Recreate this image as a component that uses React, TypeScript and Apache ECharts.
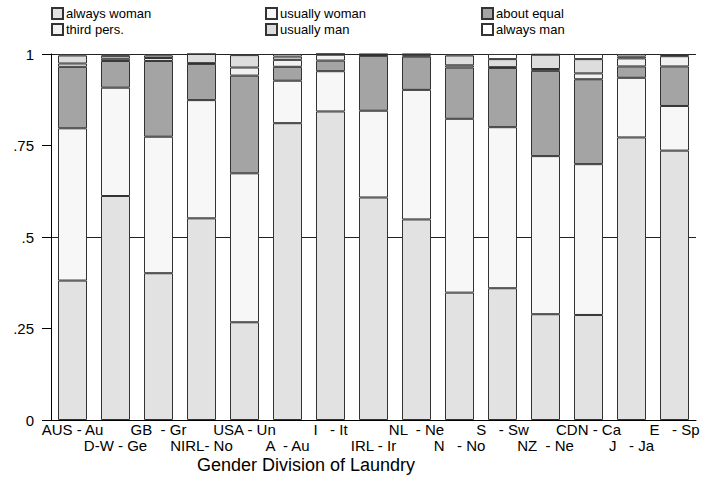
import React, { useEffect, useRef } from "react";
import * as echarts from "echarts";

const countries = [
  "AUS - Au", "D-W - Ge", "GB  - Gr", "NIRL- No", "USA - Un", "A  - Au", "I   - It", "IRL - Ir",
  "NL  - Ne", "N   - No", "S   - Sw", "NZ  - Ne", "CDN - Ca", "J   - Ja", "E   - Sp",
];

const alwaysWoman = [0.381, 0.612, 0.401, 0.551, 0.267, 0.811, 0.843, 0.608, 0.548, 0.348, 0.36, 0.289, 0.287, 0.772, 0.736];
const usuallyWoman = [0.416, 0.296, 0.373, 0.323, 0.407, 0.116, 0.11, 0.237, 0.354, 0.475, 0.44, 0.432, 0.412, 0.163, 0.122];
const aboutEqual = [0.168, 0.073, 0.207, 0.099, 0.267, 0.038, 0.029, 0.15, 0.091, 0.14, 0.162, 0.233, 0.232, 0.031, 0.108];
const thirdPers = [0.009, 0.006, 0.008, 0.002, 0.022, 0.019, 0.016, 0.002, 0.003, 0.006, 0.002, 0.005, 0.016, 0.022, 0.028];
const usuallyMan = [0.022, 0.008, 0.007, 0.025, 0.034, 0.009, 0.002, 0.002, 0.003, 0.027, 0.022, 0.039, 0.039, 0.005, 0.003];
const alwaysMan = [0.004, 0.005, 0.004, 0.0, 0.003, 0.007, 0.0, 0.001, 0.001, 0.004, 0.014, 0.002, 0.014, 0.007, 0.003];

const yTickValues = [0, 0.25, 0.5, 0.75, 1];
const yTickLabels = ["0", ".25", ".5", ".75", "1"];

const seriesNames = ["always woman", "usually woman", "about equal", "third pers.", "usually man", "always man"];
const seriesData = [alwaysWoman, usuallyWoman, aboutEqual, thirdPers, usuallyMan, alwaysMan];
const seriesColors = ["#e2e2e2", "#f7f7f7", "#a4a4a4", "#f1f1f1", "#dddddd", "#ffffff"];

const FONT = "'Liberation Sans', Arial, sans-serif";

export default function App() {
  const ref = useRef<HTMLDivElement>(null);
  useEffect(() => {
    if (!ref.current) return;
    const chart = echarts.init(ref.current, undefined, { renderer: "svg" });
    const legendBase = {
      orient: "vertical",
      top: 7,
      padding: 0,
      itemWidth: 11,
      itemHeight: 11,
      itemGap: 3,
      icon: "rect",
      textStyle: { fontSize: 13, lineHeight: 13, color: "#000", fontFamily: FONT, padding: [0, 0, 0, -2] },
    };
    chart.setOption({
      animation: false,
      backgroundColor: "#fff",
      textStyle: { fontFamily: FONT },
      title: {
        text: "Gender Division of Laundry",
        left: 197,
        top: 456,
        padding: 0,
        textStyle: { fontSize: 18, fontWeight: "normal", color: "#000", fontFamily: FONT },
      },
      legend: [
        { ...legendBase, left: 51, data: [seriesNames[0], seriesNames[3]] },
        { ...legendBase, left: 265, data: [seriesNames[1], seriesNames[4]] },
        { ...legendBase, left: 481, data: [seriesNames[2], seriesNames[5]] },
      ],
      grid: { left: 51, right: 8, top: 54, bottom: 60, containLabel: false },
      xAxis: {
        type: "category",
        data: countries,
        axisLine: { show: true, lineStyle: { color: "#000", width: 1 } },
        axisTick: { show: false },
        axisLabel: {
          interval: 0,
          color: "#000",
          fontSize: 15,
          lineHeight: 16,
          margin: 1,
          fontFamily: FONT,
          formatter: (v: string, i: number) => (i % 2 === 1 ? "\n" + v : v),
        },
      },
      yAxis: [
        {
          type: "value",
          min: 0,
          max: 1,
          interval: 0.25,
          axisLine: { show: true, lineStyle: { color: "#000" } },
          axisTick: { show: true, length: 9, lineStyle: { color: "#000" } },
          splitLine: { show: false },
          axisLabel: {
            color: "#000",
            fontSize: 15,
            margin: 17,
            fontFamily: FONT,
            formatter: (v: number) => {
              const idx = yTickValues.findIndex((t) => Math.abs(t - v) < 1e-6);
              return idx >= 0 ? yTickLabels[idx] : "";
            },
          },
        },
        {
          type: "value",
          min: 0,
          max: 1,
          interval: 0.5,
          position: "left",
          axisLine: { show: false },
          axisTick: { show: false },
          axisLabel: { show: false },
          splitLine: { show: true, lineStyle: { color: "#222", width: 1 } },
        },
      ],
      series: seriesNames.map((name, k) => ({
        name,
        type: "bar",
        stack: "total",
        yAxisIndex: 0,
        barWidth: 29,
        data: seriesData[k],
        itemStyle: { color: seriesColors[k], borderColor: "#333", borderWidth: 1 },
        emphasis: { disabled: true },
      })),
    });
    return () => chart.dispose();
  }, []);
  return (
    <div
      ref={ref}
      style={{ position: "fixed", left: 0, top: 0, width: 704, height: 480, background: "#fff" }}
    />
  );
}
